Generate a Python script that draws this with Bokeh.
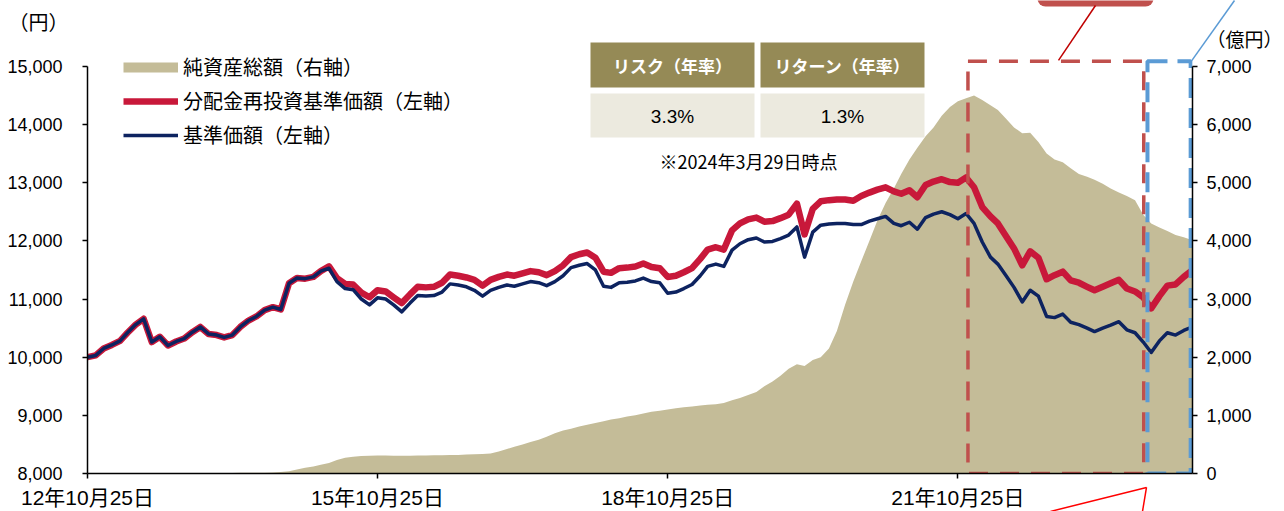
from datetime import datetime
from bokeh.plotting import figure
from bokeh.core.properties import value
from bokeh.models import (Range1d, LinearAxis, FixedTicker, NumeralTickFormatter, Legend,
                          LegendItem, BoxAnnotation, Label, ColumnDataSource)
from bokeh.embed import file_html
from bokeh.resources import INLINE

# ---------------- data ----------------
dates = []
for k in range(137):
    yy = 2012 + (9 + k) // 12
    mm = (9 + k) % 12 + 1
    dates.append(datetime(yy, mm, 25))
dates.append(datetime(2024, 3, 29))

base_price = [
    10000, 10030, 10150, 10210, 10280, 10420, 10560, 10660, 10260, 10350,
    10200, 10270, 10320, 10430, 10520, 10400, 10380, 10340, 10380, 10520,
    10630, 10700, 10810, 10860, 10820, 11270, 11360, 11350, 11380, 11480,
    11530, 11300, 11180, 11160, 11000, 10900, 11020, 11000, 10900, 10780,
    10930, 11060, 11050, 11060, 11120, 11260, 11240, 11210, 11150, 11050,
    11150, 11200, 11240, 11220, 11260, 11300, 11280, 11230, 11300, 11400,
    11540, 11580, 11610, 11500, 11220, 11200, 11280, 11290, 11310, 11360,
    11300, 11280, 11100, 11120, 11180, 11250, 11400, 11560, 11600, 11560,
    11840, 11950, 12020, 12050, 11980, 11990, 12040, 12100, 12240, 11720,
    12150, 12270, 12290, 12300, 12300, 12280, 12280, 12340, 12380, 12420,
    12300, 12260, 12320, 12200, 12400, 12460, 12500, 12450, 12380, 12470,
    12300, 11980, 11720, 11600, 11400, 11200, 10950, 11150, 11050, 10700,
    10680, 10740, 10600, 10560, 10500, 10440, 10500, 10550, 10610, 10470,
    10420, 10260, 10080, 10280, 10420, 10380, 10460, 10520,
]

reinvested_price = [
    10000, 10030, 10150, 10210, 10280, 10420, 10560, 10660, 10260, 10350,
    10200, 10270, 10320, 10430, 10520, 10400, 10380, 10340, 10380, 10520,
    10630, 10700, 10810, 10860, 10820, 11270, 11360, 11350, 11380, 11480,
    11560, 11360, 11260, 11250, 11110, 11030, 11150, 11130, 11030, 10930,
    11080, 11210, 11200, 11210, 11280, 11420, 11400, 11370, 11330, 11230,
    11330, 11380, 11420, 11400, 11440, 11480, 11460, 11410, 11480, 11580,
    11720, 11770, 11800, 11710, 11470, 11450, 11530, 11540, 11560, 11610,
    11550, 11530, 11380, 11400, 11460, 11530, 11690, 11850, 11890, 11850,
    12180, 12300, 12370, 12400, 12330, 12340, 12390, 12450, 12640, 12110,
    12550, 12680, 12700, 12710, 12710, 12690, 12770, 12830, 12880, 12920,
    12850, 12810, 12870, 12750, 12960, 13020, 13060, 13010, 13000, 13090,
    12920, 12580, 12420, 12300, 12080, 11870, 11580, 11820, 11710, 11340,
    11410, 11470, 11320, 11280, 11210, 11150, 11210, 11270, 11330, 11180,
    11130, 11030, 10840, 11050, 11230, 11250, 11380, 11500,
]

net_assets = [
    1, 1, 1, 1, 1, 1, 2, 2, 2, 2,
    2, 2, 4, 4, 4, 8, 8, 8, 8, 12,
    12, 12, 12, 18, 25, 40, 70, 100, 120, 150,
    180, 230, 270, 290, 300, 305, 310, 310, 305, 305,
    305, 310, 310, 312, 315, 318, 320, 325, 330, 335,
    345, 380, 420, 460, 500, 540, 580, 630, 690, 740,
    770, 810, 840, 870, 900, 930, 950, 980, 1000, 1030,
    1060, 1080, 1100, 1120, 1140, 1150, 1170, 1180, 1190, 1210,
    1260, 1300, 1350, 1400, 1500, 1580, 1680, 1800, 1880, 1850,
    1950, 2000, 2150, 2450, 2900, 3300, 3650, 4000, 4350, 4650,
    4900, 5150, 5400, 5600, 5800, 5950, 6150, 6300, 6400, 6450,
    6500, 6420, 6330, 6250, 6100, 5950, 5850, 5860, 5700, 5500,
    5400, 5350, 5250, 5150, 5100, 5050, 4980, 4900, 4830, 4770,
    4700, 4450, 4300, 4230, 4170, 4100, 4060, 4010,
]

left_ticks = [8000, 9000, 10000, 11000, 12000, 13000, 14000, 15000]
right_ticks = [0, 1000, 2000, 3000, 4000, 5000, 6000, 7000]
x_tick_dates = [datetime(2012, 10, 25), datetime(2015, 10, 25),
                datetime(2018, 10, 25), datetime(2021, 10, 25)]
x_tick_labels = ["12年10月25日", "15年10月25日", "18年10月25日", "21年10月25日"]

legend_labels = ["純資産総額（右軸）", "分配金再投資基準価額（左軸）", "基準価額（左軸）"]
table_headers = ["リスク（年率）", "リターン（年率）"]
table_values = ["3.3%", "1.3%"]
table_note = "※2024年3月29日時点"
left_unit = "（円）"
right_unit = "（億円）"

red_box = [datetime(2021, 12, 2), datetime(2023, 9, 27)]
blue_box = [datetime(2023, 10, 11), datetime(2024, 3, 22)]
box_top = 15090

# ---------------- styles / layout ----------------
TAN = "#C4BC98"
RED = "#C8183A"
NAVY = "#0D2360"
OLIVE = "#958A56"
BEIGE = "#ECEADF"
BOX_RED = "#C0504D"
BOX_BLUE = "#5B9BD5"
NUM_FONT = "Liberation Sans"
JP_FONT = "Noto Sans CJK JP"
MIX_FONT = "Liberation Sans, Noto Sans CJK JP"

X0, X1 = datetime(2012, 10, 25), datetime(2024, 3, 29)
F_L, F_R, F_T, F_B = 87, 1192, 0, 474
y_end = 15000 + (66 - F_T) * 7000 / 408.0


def px_x(px):
    return X0 + (X1 - X0) * ((px - F_L) / (F_R - F_L))


def px_y(py):
    return 8000 + (F_B - py) * (y_end - 8000) / (F_B - F_T)


p = figure(width=1284, height=511, x_axis_type="datetime", output_backend="svg",
           toolbar_location=None,
           x_range=Range1d(X0, X1), y_range=Range1d(8000, y_end),
           min_border_left=F_L, min_border_right=1284 - F_R, min_border_top=F_T,
           min_border_bottom=511 - F_B)
p.extra_y_ranges = {"right": Range1d(0, y_end - 8000)}
p.outline_line_color = None
p.grid.visible = False
p.background_fill_color = "white"
p.border_fill_color = "white"

src = ColumnDataSource(dict(x=dates, base=base_price, rein=reinvested_price, assets=net_assets))

p.varea(x="x", y1=0, y2="assets", source=src, fill_color=TAN, y_range_name="right")
r_red = p.line(x="x", y="rein", source=src, line_color=RED, line_width=6.5, line_join="round")
r_navy = p.line(x="x", y="base", source=src, line_color=NAVY, line_width=3.5, line_join="round")

# dashed boxes
p.quad(left=[red_box[0]], right=[red_box[1]], bottom=[8000], top=[box_top],
       fill_color=None, line_color=BOX_RED, line_width=3.5, line_dash="19 12")
p.quad(left=[blue_box[0]], right=[blue_box[1]], bottom=[8000], top=[box_top],
       fill_color=None, line_color=BOX_BLUE, line_width=4, line_dash="20 10")

# axes
yl = p.yaxis[0]
yl.ticker = FixedTicker(ticks=left_ticks)
yl.formatter = NumeralTickFormatter(format="0,0")
yl.bounds = (8000, 15000)

yr = LinearAxis(y_range_name="right")
yr.ticker = FixedTicker(ticks=right_ticks)
yr.formatter = NumeralTickFormatter(format="0,0")
yr.bounds = (0, 7000)
p.add_layout(yr, "right")

xa = p.xaxis[0]
tick_ms = [(d - datetime(1970, 1, 1)).total_seconds() * 1000 for d in x_tick_dates]
xa.ticker = FixedTicker(ticks=tick_ms)
xa.major_label_overrides = {t: lab for t, lab in zip(tick_ms, x_tick_labels)}

for ax in [yl, yr, xa]:
    ax.axis_line_color = "black"
    ax.axis_line_width = 1.5
    ax.major_tick_line_color = "black"
    ax.major_tick_line_width = 1.5
    ax.major_tick_out = 5
    ax.major_tick_in = 0
    ax.minor_tick_line_color = None
    ax.major_label_text_color = "black"
yl.major_label_text_font = NUM_FONT
yl.major_label_text_font_size = "18px"
yl.major_label_standoff = 20
yr.major_label_text_font = NUM_FONT
yr.major_label_text_font_size = "18px"
yr.major_label_standoff = 9
xa.major_label_text_font = MIX_FONT
xa.major_label_text_font_size = "21px"
xa.major_label_standoff = 7

# legend
dummy_tan = p.line(x=[dates[0]], y=[float("nan")], line_color=TAN, line_width=10, line_cap="butt")
legend = Legend(items=[LegendItem(label=legend_labels[0], renderers=[dummy_tan]),
                       LegendItem(label=legend_labels[1], renderers=[r_red]),
                       LegendItem(label=legend_labels[2], renderers=[r_navy])],
                location=(36, 324), orientation="vertical",
                glyph_width=55, glyph_height=20, label_height=20, spacing=5,
                padding=0, margin=0, border_line_color=None, background_fill_alpha=0,
                label_text_font=JP_FONT, label_text_font_size="20px", label_standoff=5,
                label_text_color="black")
p.add_layout(legend)

# table
cells = [(590, 754), (760, 924)]
for (l, r), head, val in zip(cells, table_headers, table_values):
    p.add_layout(BoxAnnotation(left=l, right=r, top=42, bottom=87, left_units="canvas",
                               right_units="canvas", top_units="canvas", bottom_units="canvas",
                               fill_color=OLIVE, fill_alpha=1, line_color=None))
    p.add_layout(BoxAnnotation(left=l, right=r, top=93, bottom=137, left_units="canvas",
                               right_units="canvas", top_units="canvas", bottom_units="canvas",
                               fill_color=BEIGE, fill_alpha=1, line_color=None))
    p.add_layout(Label(x=(l + r) / 2, y=65, x_units="canvas", y_units="canvas", text=head,
                       text_align="center", text_baseline="middle", text_color="white",
                       text_font=JP_FONT, text_font_style="bold", text_font_size="17px"))
    p.add_layout(Label(x=(l + r) / 2, y=116, x_units="canvas", y_units="canvas", text=val,
                       text_align="center", text_baseline="middle", text_color="black",
                       text_font="Liberation Sans Narrow, Liberation Sans", text_font_size="19px"))
p.add_layout(Label(x=748, y=160, x_units="canvas", y_units="canvas", text=table_note,
                   text_align="center", text_baseline="middle", text_color="black",
                   text_font=JP_FONT, text_font_size="18px"))

# unit labels (overlay level, anchored to the frame corners so they may sit outside it)
p.text(x=[X0], y=[y_end], text=[left_unit], x_offset=[-49], y_offset=[21],
       text_align="center", text_baseline="middle", text_color="black",
       text_font=value(JP_FONT), text_font_size="20px", level="overlay")
p.text(x=[X1], y=[y_end], text=[right_unit], x_offset=[90], y_offset=[38],
       text_align="right", text_baseline="middle", text_color="black",
       text_font=value(JP_FONT), text_font_size="19px", level="overlay")

# callouts
p.add_layout(BoxAnnotation(left=1037, right=1153, top=-20, bottom=6, left_units="canvas",
                           right_units="canvas", top_units="canvas", bottom_units="canvas",
                           fill_color=BOX_RED, fill_alpha=1, line_color=None, border_radius=8))
callout_px = [(1058, 60, 1095, 5, "#C00000"), (1190, 62, 1234, 0, BOX_BLUE),
              (1146, 488, 1050, 512, "#FF0000"), (1146, 488, 1142, 512, "#FF0000")]
p.segment(x0=[px_x(c[0]) for c in callout_px], y0=[px_y(c[1]) for c in callout_px],
          x1=[px_x(c[2]) for c in callout_px], y1=[px_y(c[3]) for c in callout_px],
          line_color=[c[4] for c in callout_px], line_width=1.5, level="overlay")

open("out.html", "w").write(file_html(p, INLINE))
